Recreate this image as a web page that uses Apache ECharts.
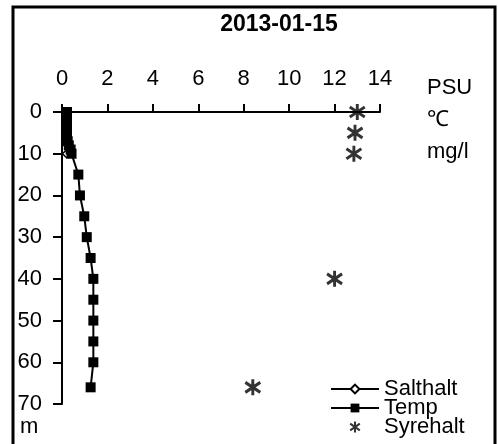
<!DOCTYPE html>
<html>
<head>
<meta charset="utf-8">
<script src="https://cdn.jsdelivr.net/npm/echarts@6/dist/echarts.min.js"></script>
<style>html,body{margin:0;padding:0;background:#fff;}#c{width:498px;height:444px;}</style>
</head>
<body>
<div id="c"></div>
<script>
var title = '2013-01-15';
var xTicks = [0, 2, 4, 6, 8, 10, 12, 14];
var yTicks = [0, 10, 20, 30, 40, 50, 60, 70];
var units = ['PSU', '℃', 'mg/l'];
var depthUnit = 'm';

var saltDepth = [0, 5, 10];
var saltValue = [0.2, 0.2, 0.2];

var tempDepth = [0, 1, 2, 3, 4, 5, 6, 7, 8, 9, 10, 15, 20, 25, 30, 35, 40, 45, 50, 55, 60, 66];
var tempValue = [0.22, 0.22, 0.22, 0.22, 0.22, 0.22, 0.22, 0.25, 0.3, 0.38, 0.42, 0.72, 0.79, 0.98, 1.09, 1.26, 1.38, 1.38, 1.38, 1.38, 1.38, 1.26];

var oxyDepth = [0, 5, 10, 40, 66];
var oxyValue = [13.0, 12.9, 12.85, 12.0, 8.4];

function pairs(v, d) { return v.map(function (x, i) { return [x, d[i]]; }); }

var FONT = '"Liberation Sans", Arial, sans-serif';
var asterisk = 'path://M7,0L7,16M0,3L14,13M0,13L14,3';

var chart = echarts.init(document.getElementById('c'), null, { renderer: 'canvas' });
chart.setOption({
  animation: false,
  backgroundColor: '#fff',
  textStyle: { fontFamily: FONT, color: '#000' },
  grid: { left: 62, top: 112, width: 318, height: 292, containLabel: false },
  xAxis: {
    type: 'value', position: 'top', min: xTicks[0], max: xTicks[xTicks.length - 1], interval: 2,
    axisLine: { show: true, lineStyle: { color: '#000', width: 2 } },
    axisTick: { show: true, length: 8, lineStyle: { color: '#000', width: 2 } },
    axisLabel: { fontSize: 22, color: '#000', fontFamily: FONT, margin: 22 },
    splitLine: { show: false }
  },
  yAxis: {
    type: 'value', inverse: true, min: yTicks[0], max: yTicks[yTicks.length - 1], interval: 10,
    axisLine: { show: true, lineStyle: { color: '#000', width: 2 } },
    axisTick: { show: true, length: 9, lineStyle: { color: '#000', width: 2 } },
    axisLabel: { fontSize: 22, color: '#000', fontFamily: FONT, margin: 20 },
    splitLine: { show: false }
  },
  legend: {
    orient: 'vertical', left: 330, top: 378, padding: 0, itemGap: -3,
    itemWidth: 48, itemHeight: 11,
    textStyle: { fontSize: 22, lineHeight: 19, color: '#000', fontFamily: FONT },
    data: ['Salthalt', 'Temp', 'Syrehalt']
  },
  graphic: [
    { type: 'rect', shape: { x: 13, y: 7, width: 482, height: 470 }, style: { fill: 'none', stroke: '#000', lineWidth: 3 }, silent: true },
    { type: 'text', style: { text: title, x: 279, y: 25, align: 'center', verticalAlign: 'middle', font: 'bold 23px ' + FONT, fill: '#000' } },
    { type: 'text', style: { text: units[0], x: 427, y: 88, verticalAlign: 'middle', font: '22px ' + FONT, fill: '#000' } },
    { type: 'text', style: { text: units[1], x: 427, y: 120, verticalAlign: 'middle', font: '22px ' + FONT, fill: '#000' } },
    { type: 'text', style: { text: units[2], x: 427, y: 152, verticalAlign: 'middle', font: '22px ' + FONT, fill: '#000' } },
    { type: 'text', style: { text: depthUnit, x: 20, y: 427, verticalAlign: 'middle', font: '22px ' + FONT, fill: '#000' } }
  ],
  series: [
    {
      name: 'Salthalt', type: 'line', z: 1, data: pairs(saltValue, saltDepth),
      symbol: 'diamond', symbolSize: 8, showAllSymbol: true,
      lineStyle: { color: '#000', width: 2 },
      itemStyle: { color: '#fff', borderColor: '#000', borderWidth: 1.5 }
    },
    {
      name: 'Temp', type: 'line', z: 2, data: pairs(tempValue, tempDepth),
      symbol: 'rect', symbolSize: 10, showAllSymbol: true,
      lineStyle: { color: '#000', width: 2 },
      itemStyle: { color: '#000', borderColor: '#000', borderWidth: 0 }
    },
    {
      name: 'Syrehalt', type: 'scatter', z: 3, data: pairs(oxyValue, oxyDepth),
      symbol: asterisk, symbolSize: [15, 16],
      itemStyle: { color: 'none', borderColor: '#000', borderWidth: 3 }
    }
  ]
});
</script>
</body>
</html>
